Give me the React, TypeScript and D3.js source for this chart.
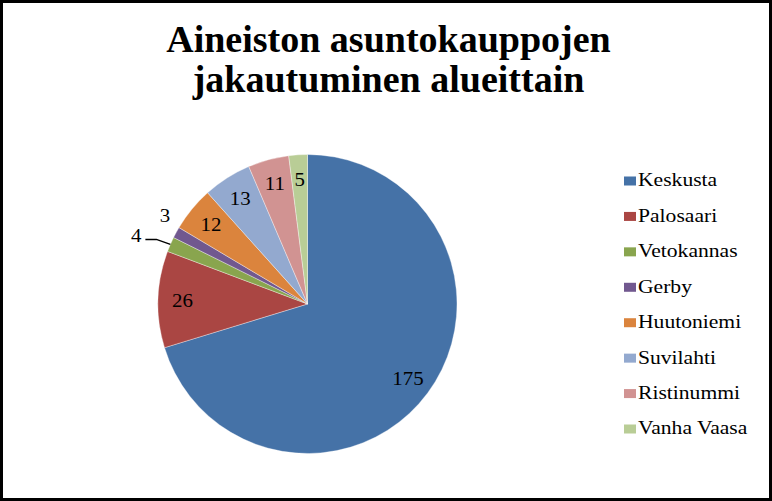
import React, { useEffect, useRef } from "react";
import * as d3 from "d3";

const TITLE_LINES = ["Aineiston asuntokauppojen", "jakautuminen alueittain"];
const areas = ["Keskusta", "Palosaari", "Vetokannas", "Gerby", "Huutoniemi", "Suvilahti", "Ristinummi", "Vanha Vaasa"];
const sales = [175, 26, 4, 3, 12, 13, 11, 5];
const colors = ["#4572A7", "#AA4643", "#89A54E", "#71588F", "#DB843D", "#93A9CF", "#D19392", "#B9CD96"];

const W = 772;
const H = 501;
const CX = 307.5;
const CY = 304;
const R = 149.5;
const FONT = "'Liberation Serif', 'Times New Roman', serif";

export default function App() {
  const svgRef = useRef<SVGSVGElement>(null);

  useEffect(() => {
    const svg = d3.select(svgRef.current);
    svg.selectAll("*").remove();

    svg
      .append("rect")
      .attr("x", 1.5)
      .attr("y", 1.5)
      .attr("width", W - 3)
      .attr("height", H - 3)
      .attr("fill", "#fff")
      .attr("stroke", "#000")
      .attr("stroke-width", 3);

    // title
    svg
      .append("g")
      .selectAll("text")
      .data(TITLE_LINES)
      .enter()
      .append("text")
      .attr("x", 388.5)
      .attr("y", (d, i) => 52 + i * 40)
      .attr("text-anchor", "middle")
      .attr("font-family", FONT)
      .attr("font-weight", "bold")
      .attr("font-size", 38)
      .text((d) => d);

    const pie = d3
      .pie<number>()
      .sort(null)
      .value((d) => d);
    const arcs = pie(sales);
    const arc = d3.arc<d3.PieArcDatum<number>>().innerRadius(0).outerRadius(R);
    const labelArc = d3.arc<d3.PieArcDatum<number>>().innerRadius(125).outerRadius(125);

    const g = svg.append("g").attr("transform", `translate(${CX},${CY})`);
    g.selectAll("path")
      .data(arcs)
      .enter()
      .append("path")
      .attr("d", arc)
      .attr("fill", (d, i) => colors[i])
      .attr("stroke", "#fff")
      .attr("stroke-opacity", 0.6)
      .attr("stroke-width", 0.6);

    // small slices get labels outside the pie
    const outside = (d: d3.PieArcDatum<number>) => d.value < 5;
    const angleOf = (d: d3.PieArcDatum<number>) => (d.startAngle + d.endAngle) / 2;
    const label = (sel) =>
      sel
        .attr("font-family", FONT)
        .attr("font-size", 19)
        .attr("fill", "#000");

    g.selectAll("text.inside")
      .data(arcs.filter((d) => !outside(d)))
      .enter()
      .append("text")
      .attr("class", "inside")
      .attr("transform", (d) => `translate(${labelArc.centroid(d)}) scale(1.1,1)`)
      .attr("text-anchor", "middle")
      .attr("dy", "0.35em")
      .call(label)
      .text((d) => d.value);

    const small = arcs.filter(outside);
    small.forEach((d, k) => {
      const a = angleOf(d);
      const edge: [number, number] = [R * Math.sin(a), -R * Math.cos(a)];
      if (k === 0) {
        // leader line for the first small slice
        const bend: [number, number] = [edge[0] - 14, edge[1] - 5];
        const end: [number, number] = [bend[0] - 11, bend[1]];
        g.append("path")
          .attr("d", d3.line()([edge, bend, end]))
          .attr("fill", "none")
          .attr("stroke", "#000")
          .attr("stroke-width", 1.5);
        g.append("text")
          .attr("transform", `translate(${end[0] - 4},${end[1] - 4}) scale(1.1,1)`)
          .attr("dy", "0.35em")
          .attr("text-anchor", "end")
          .call(label)
          .text(d.value);
      } else {
        const r = 168;
        g.append("text")
          .attr(
            "transform",
            `translate(${r * Math.sin(a + 0.06)},${-r * Math.cos(a + 0.06)}) scale(1.1,1)`
          )
          .attr("dy", "0.35em")
          .attr("text-anchor", "middle")
          .call(label)
          .text(d.value);
      }
    });

    // legend
    const y = d3
      .scalePoint<string>()
      .domain(areas)
      .range([181, 429]);
    const legend = svg
      .append("g")
      .selectAll("g")
      .data(areas)
      .enter()
      .append("g")
      .attr("transform", (d) => `translate(624,${y(d)})`);
    legend
      .append("rect")
      .attr("x", 0)
      .attr("y", -4.5)
      .attr("width", 12)
      .attr("height", 9)
      .attr("fill", (d, i) => colors[i]);
    legend
      .append("text")
      .attr("transform", "translate(14,0) scale(1.2,1)")
      .attr("dy", "0.3em")
      .attr("font-family", FONT)
      .attr("font-size", 18)
      .text((d) => d);
  }, []);

  return (
    <svg
      ref={svgRef}
      width={W}
      height={H}
      style={{ position: "absolute", left: 0, top: 0, display: "block" }}
    />
  );
}
